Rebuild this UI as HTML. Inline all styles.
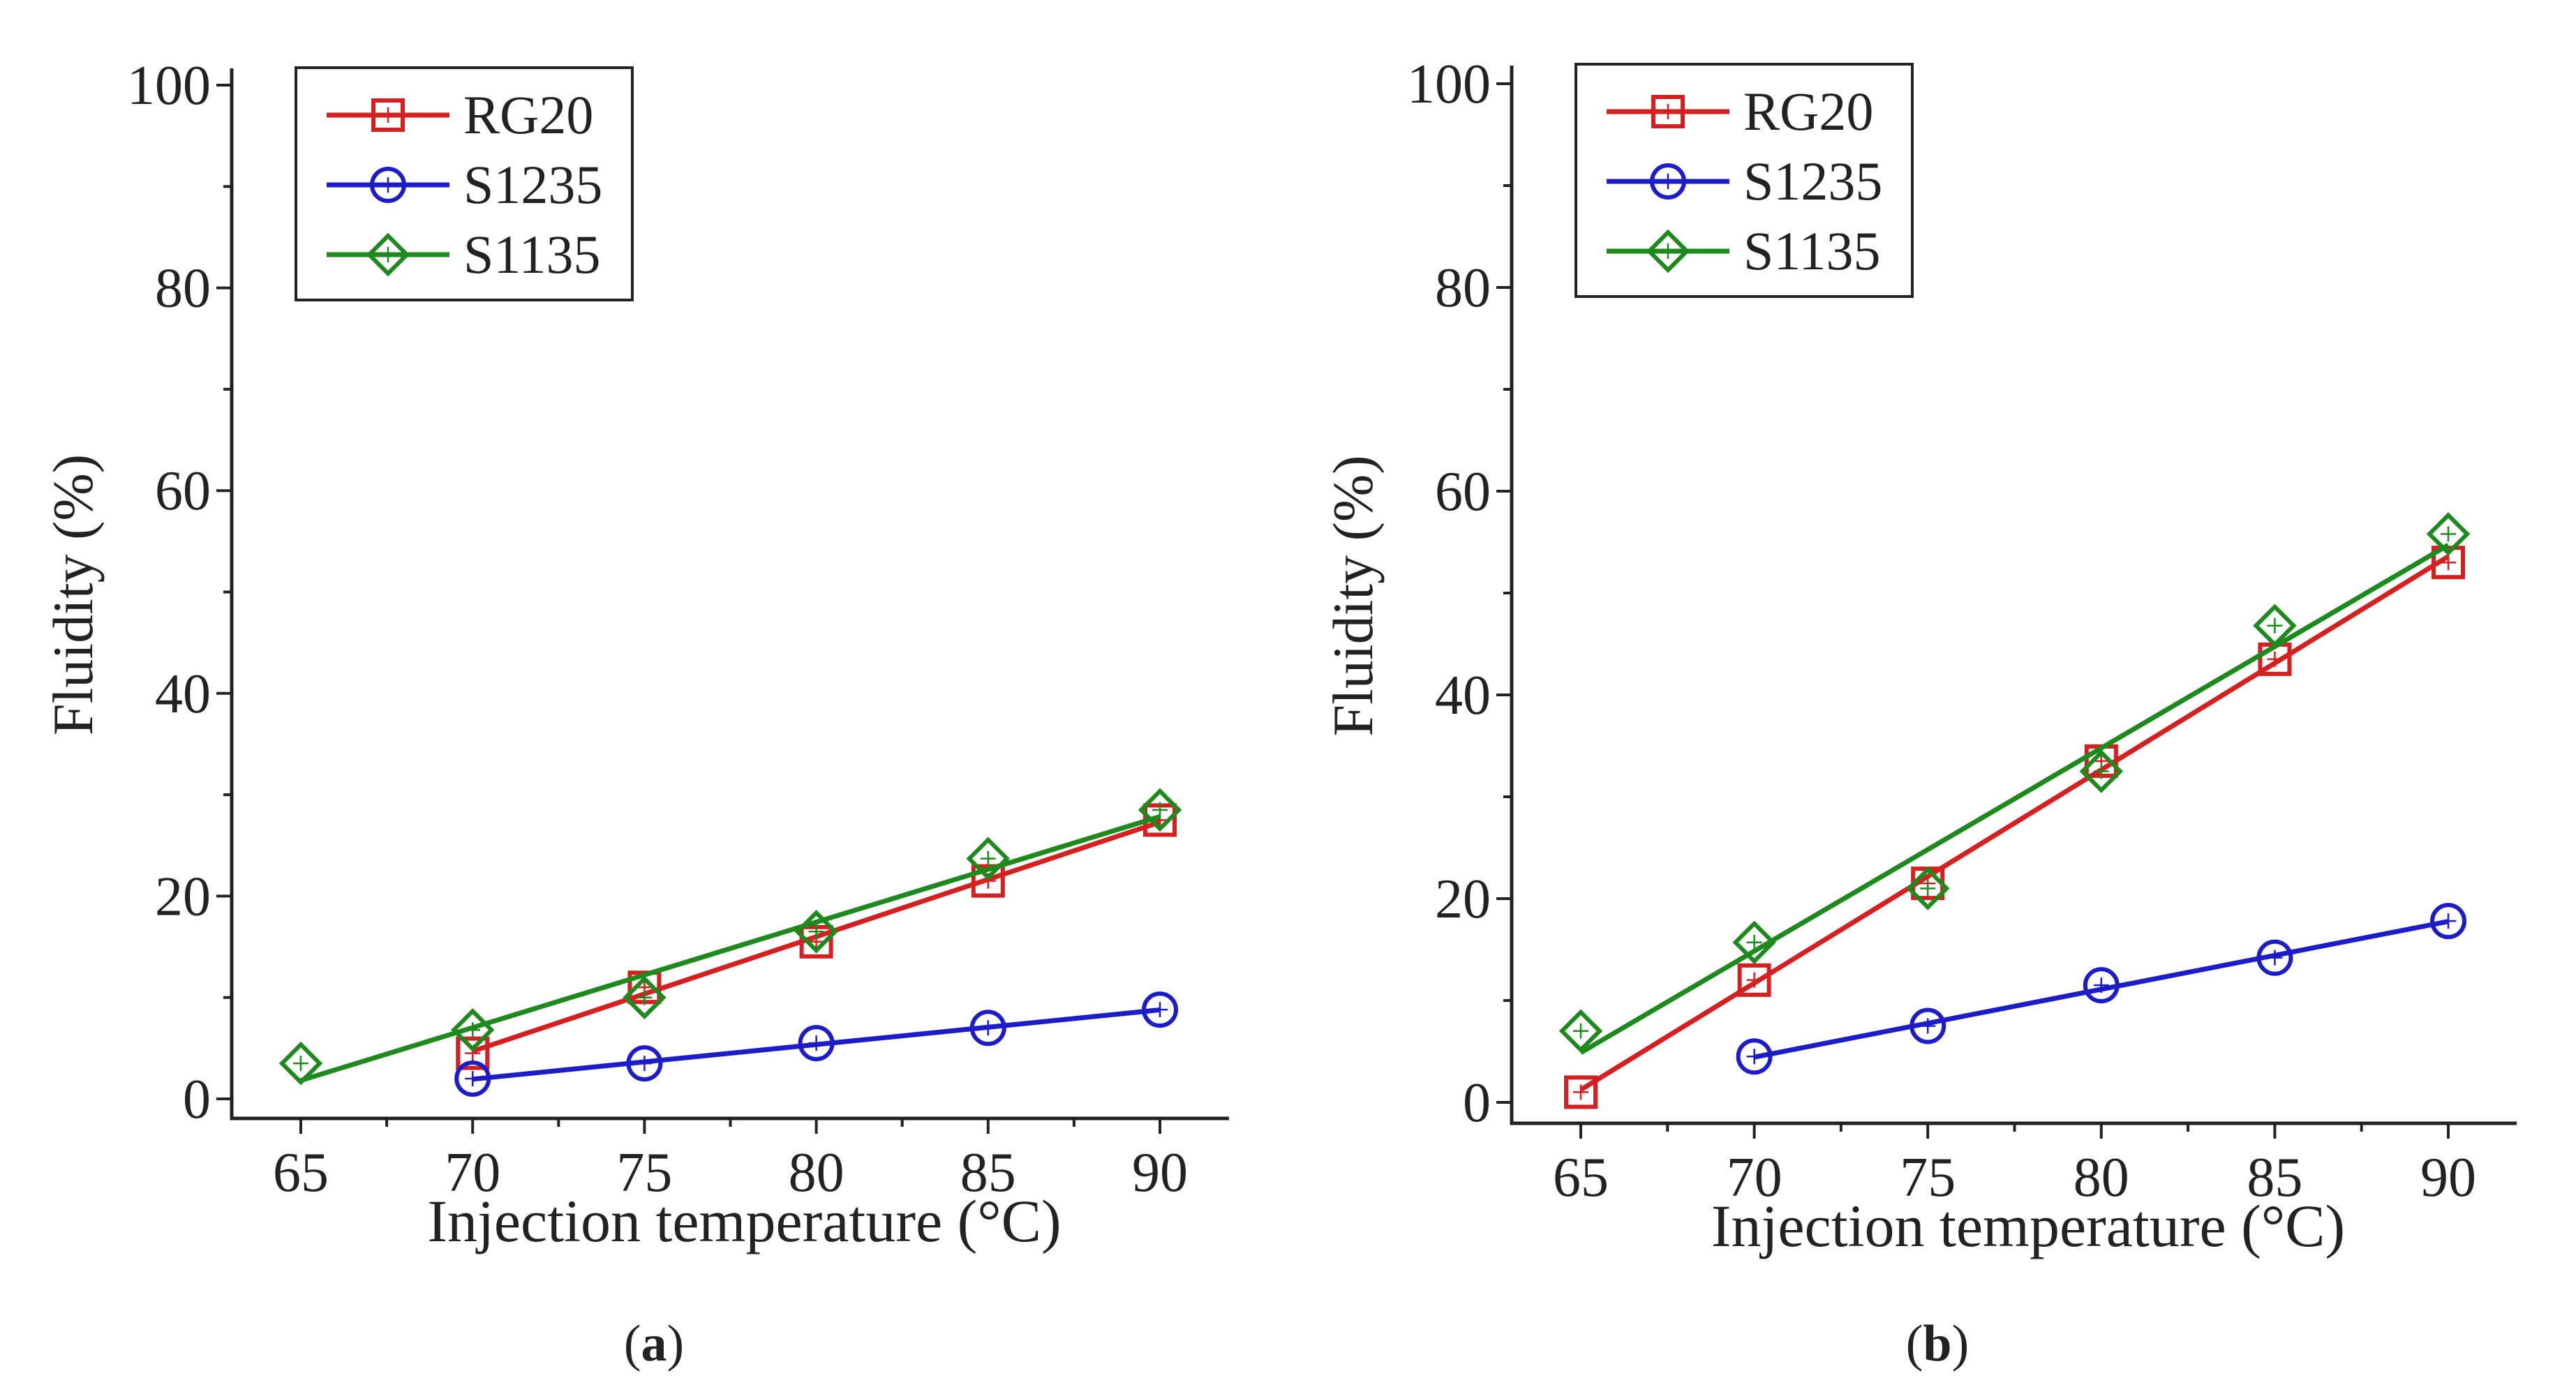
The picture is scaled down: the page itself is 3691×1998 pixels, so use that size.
<!DOCTYPE html>
<html><head><meta charset="utf-8"><style>
html,body{margin:0;padding:0;background:#fff;width:3691px;height:1998px;overflow:hidden}
svg{display:block}
text{font-family:"Liberation Serif",serif;fill:#222}
</style></head><body>
<svg id="chart" width="3691" height="1998" viewBox="0 0 3691 1998" xmlns="http://www.w3.org/2000/svg"></svg>
<script>
const xCategories = [65, 70, 75, 80, 85, 90];
const xTickLabels = ["65","70","75","80","85","90"];
const yTickLabels = ["0","20","40","60","80","100"];
const yTickValues = [0,20,40,60,80,100];
const seriesNames = ["RG20","S1235","S1135"];
// panel a
const aRG20  = [null, 4.5, 11, 15.5, 21.5, 27.5];
const aS1235 = [null, 2, 3.5, 5.5, 7, 8.8];
const aS1135 = [3.5, 6.8, 10, 16.5, 23.7, 28.5];
// panel b
const bRG20  = [1, 12, 21.5, 33.5, 43.5, 53];
const bS1235 = [null, 4.5, 7.5, 11.5, 14.2, 17.8];
const bS1135 = [7, 15.7, 21, 32.5, 46.8, 55.8];

const NS = "http://www.w3.org/2000/svg";
const svg = document.getElementById('chart');
const colors = ["#d42020","#1c1cc8","#1e8a1e"];
function mk(tag, attrs, parent){const e=document.createElementNS(NS,tag);for(const k in attrs)e.setAttribute(k,attrs[k]);(parent||svg).appendChild(e);return e;}

function marker(g, type, cx, cy, color){
  const s=21;
  let m;
  if(type===0) m=mk('rect',{x:cx-s,y:cy-s,width:2*s,height:2*s,fill:'none',stroke:color,'stroke-width':6},g);
  else if(type===1) m=mk('circle',{cx:cx,cy:cy,r:s+2,fill:'none',stroke:color,'stroke-width':6},g);
  else m=mk('polygon',{points:`${cx},${cy-s-6} ${cx+s+6},${cy} ${cx},${cy+s+6} ${cx-s-6},${cy}`,fill:'none',stroke:color,'stroke-width':6},g);
  
  
  const c=mk('path',{d:`M${cx-11},${cy}H${cx+11}M${cx},${cy-11}V${cy+11}`,stroke:color,'stroke-width':2.5},g);
  
  
}

function fit(xs, ys){
  const p=[];xs.forEach((x,i)=>{if(ys[i]!=null)p.push([x,ys[i]]);});
  const n=p.length;let sx=0,sy=0,sxx=0,sxy=0;
  p.forEach(([x,y])=>{sx+=x;sy+=y;sxx+=x*x;sxy+=x*y;});
  const b=(n*sxy-sx*sy)/(n*sxx-sx*sx), a=(sy-b*sx)/n;
  return {x0:p[0][0],x1:p[n-1][0],f:x=>a+b*x};
}

function panel(cfg, series, label){
  const g=mk('g',{});
  
  
  const X=v=>cfg.x65+(v-65)*(cfg.x90-cfg.x65)/25;
  const Y=v=>cfg.y0+(v)*(cfg.y100-cfg.y0)/100;
  const ax=mk('path',{d:`M${cfg.ax},${cfg.top}V${cfg.xay}H${cfg.right}`,fill:'none',stroke:'#222','stroke-width':5},g);
  
  
  yTickValues.forEach((v,i)=>{
    mk('line',{x1:cfg.ax-22,x2:cfg.ax,y1:Y(v),y2:Y(v),stroke:'#222','stroke-width':4},g);
    const t=mk('text',{x:cfg.ax-30,y:Y(v)+27,'text-anchor':'end','font-size':80},g);
    t.textContent=yTickLabels[i];
    
    
    if(v<100) mk('line',{x1:cfg.ax-12,x2:cfg.ax,y1:Y(v+10),y2:Y(v+10),stroke:'#222','stroke-width':4},g);
  });
  xCategories.forEach((v,i)=>{
    mk('line',{x1:X(v),x2:X(v),y1:cfg.xay,y2:cfg.xay+22,stroke:'#222','stroke-width':4},g);
    if(i<xCategories.length-1) mk('line',{x1:X(v+2.5),x2:X(v+2.5),y1:cfg.xay,y2:cfg.xay+12,stroke:'#222','stroke-width':4},g);
    const t=mk('text',{x:X(v),y:cfg.xay+104,'text-anchor':'middle','font-size':80},g);
    t.textContent=xTickLabels[i];
    
    
  });
  const xt=mk('text',{x:(cfg.ax+cfg.right)/2+20,y:cfg.xay+176,'text-anchor':'middle','font-size':86},g);
  xt.textContent='Injection temperature (°C)';
  
  
  const yt=mk('text',{x:0,y:0,'text-anchor':'middle','font-size':82,transform:`translate(${cfg.ax-200},${(Y(0)+Y(100))/2+4}) rotate(-90)`},g);
  yt.textContent='Fluidity (%)';
  
  
  series.forEach((ys,si)=>{
    const sg=mk('g',{},g);
    
    
    const F=fit(xCategories,ys);
    const ln=mk('line',{x1:X(F.x0),y1:Y(F.f(F.x0)),x2:X(F.x1),y2:Y(F.f(F.x1)),stroke:colors[si],'stroke-width':7},sg);
    
    
    xCategories.forEach((x,i)=>{if(ys[i]!=null)marker(sg,si,X(x),Y(ys[i]),colors[si]);});
  });
  const lg=mk('g',{},g);
  
  
  mk('rect',{x:cfg.lx,y:cfg.ly,width:482,height:333,fill:'#fff',stroke:'#222','stroke-width':4},lg);
  seriesNames.forEach((n,i)=>{
    const yy=cfg.ly+68+i*100;
    const e=mk('g',{},lg);
    
    
    mk('line',{x1:cfg.lx+44,x2:cfg.lx+220,y1:yy,y2:yy,stroke:colors[i],'stroke-width':7},e);
    marker(e,i,cfg.lx+132,yy,colors[i]);
    const t=mk('text',{x:cfg.lx+240,y:yy+26,'font-size':78},e);
    t.textContent=n;
  });
  const cap=mk('text',{x:cfg.cap,y:1950,'text-anchor':'middle','font-size':74},g);
  cap.innerHTML='(<tspan font-weight="bold">'+label+'</tspan>)';
  
  
}
panel({ax:332,top:98,xay:1603,right:1761,x65:431,x90:1662,y0:1575,y100:122,lx:424,ly:97,cap:937},[aRG20,aS1235,aS1135],'a');
panel({ax:2166,top:94,xay:1610,right:3606,x65:2265,x90:3508,y0:1580,y100:120,lx:2258,ly:92,cap:2776},[bRG20,bS1235,bS1135],'b');
</script>
</body></html>
